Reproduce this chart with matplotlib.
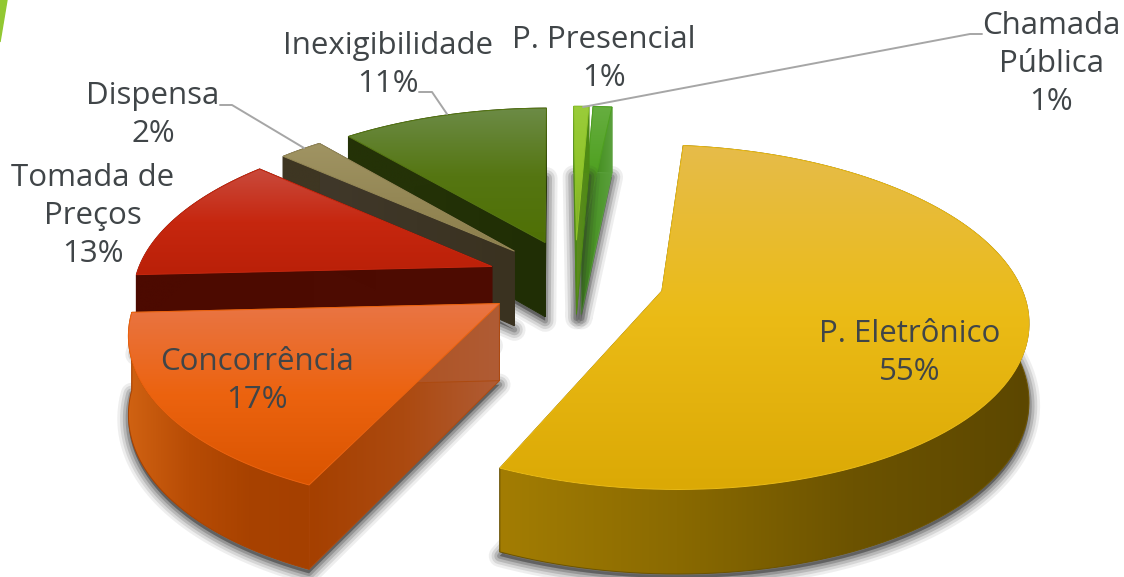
import numpy as np
import matplotlib
matplotlib.use('Agg')
import matplotlib.pyplot as plt
from matplotlib.colors import LinearSegmentedColormap
from matplotlib.patches import Polygon

# slices, clockwise from the top
names = ['P. Eletrônico', 'Concorrência', 'Tomada de\nPreços', 'Dispensa',
         'Inexigibilidade', 'P. Presencial', 'Chamada\nPública']
shares = [55.3, 17.3, 12.4, 2.3, 11.0, 0.8, 1.0]
pct_labels = ['55%', '17%', '13%', '2%', '11%', '1%', '1%']

label_pos = [(910, 353), (257, 381), (93, 216), (153, 115), (388, 65), (604, 59), (1051, 64)]
leaders = {3: [(220, 105), (232, 105), (304, 148)],
           4: [(419, 92), (432, 92), (447, 114)],
           6: [(982, 34), (970, 34), (583, 107)]}

face_cols = [['#E6BC4A', '#EBBB16', '#DBA905'],
             ['#E97545', '#EC630F', '#D95400'],
             ['#C94A3C', '#C6270F', '#BA2008'],
             ['#A09463', '#958856', '#8C7F4C'],
             ['#6C8B46', '#557612', '#4F7005'],
             ['#9ACC3A', '#90C42A', '#7FA82A'],
             ['#66AE40', '#4FA020', '#3F8A18']]
arc_cols = [['#A37D03', '#8A6A01', '#6C5300', '#5C4700'],
            ['#D06212', '#B84C05', '#A84200', '#A54000'],
            ['#4C0A00', '#4C0A00'],
            ['#3E3622', '#3E3622'],
            ['#243207', '#243207'],
            ['#4E8A14', '#4E8A14'],
            ['#3F8A18', '#5AA03C']]
wall_cols = [['#A37D03', '#5C4700'],
             ['#A54000', '#AC4A10', '#B05C35'],
             ['#4C0A00', '#4E0C02'],
             ['#40382A', '#3A3220'],
             ['#263408', '#202E05'],
             ['#5E8A20', '#4E8A14'],
             ['#3F8A18', '#5AA03C']]

# pie geometry in picture pixels
cx, cy = 575, 280
ax_a, ax_b, persp = 357, 165, 0.15
start_deg = 6.0
explode = 0.25


def project(u, v):
    s = 1 - persp * v
    return cx + ax_a * u / s, cy + ax_b * v / s


def depth(v):
    return 76 + 8 * v


def grad_fill(ax, pts, stops, vertical=True, z=2):
    pts = np.asarray(pts)
    cmap = LinearSegmentedColormap.from_list('g', stops)
    ramp = np.linspace(0, 1, 256)
    ramp = ramp[:, None] if vertical else ramp[None, :]
    x0, x1 = pts[:, 0].min(), pts[:, 0].max()
    y0, y1 = pts[:, 1].min(), pts[:, 1].max()
    im = ax.imshow(ramp, cmap=cmap, extent=(x0, x1, y1, y0), aspect='auto', zorder=z,
                   interpolation='bilinear')
    clip = Polygon(pts, closed=True, transform=ax.transData)
    im.set_clip_path(clip)
    ax.add_patch(Polygon(pts, closed=True, fill=False, edgecolor=stops[len(stops) // 2],
                         lw=0.7, zorder=z))


fig = plt.figure(figsize=(11.24, 5.77), dpi=100)
ax = fig.add_axes([0, 0, 1, 1])
ax.axis('off')

# corner accent of the slide
ax.add_patch(Polygon([(0, 0), (7, 0), (0, 42)], closed=True, color='#92C832', zorder=1))

edges = start_deg + 360 * np.cumsum([0] + shares) / sum(shares)
order = [6, 5, 4, 3, 2, 1, 0]
z = 2
for i in order:
    th = np.radians(np.linspace(edges[i], edges[i + 1], 120))
    mid = np.radians((edges[i] + edges[i + 1]) / 2)
    ou, ov = explode * np.sin(mid), -explode * np.cos(mid)
    us = ou + np.sin(th)
    vs = ov - np.cos(th)
    ax_x, ax_y = project(us, vs)
    ap_x, ap_y = project(ou, ov)
    arc = np.column_stack([ax_x, ax_y])
    arc_low = arc + np.column_stack([np.zeros(len(vs)), depth(vs)])
    ap = np.array([ap_x, ap_y])
    ap_low = ap + [0, depth(ov)]

    # soft shadow of the base
    base = np.vstack([ap_low, arc_low]) + [0, 4]
    for lw, al in [(16, .08), (12, .12), (8, .18), (4, .25)]:
        ax.add_patch(Polygon(base, closed=True, facecolor='#303030', edgecolor='#303030',
                             lw=lw, alpha=al, zorder=z, joinstyle='round'))
    z += 1
    # radial walls then outer wall
    for k in (0, -1):
        wall = np.vstack([ap, arc[k], arc_low[k], ap_low])
        grad_fill(ax, wall, wall_cols[i], vertical=False, z=z)
        z += 1
    outer = np.vstack([arc, arc_low[::-1]])
    grad_fill(ax, outer, arc_cols[i], vertical=False, z=z)
    z += 1
    grad_fill(ax, np.vstack([ap, arc]), face_cols[i], vertical=True, z=z)
    z += 1

z += 1
for i, (x, y) in enumerate(label_pos):
    ax.text(x, y, names[i] + '\n' + pct_labels[i], ha='center', va='center', multialignment='center',
            fontsize=22.5, color='#404548', family=['Open Sans', 'DejaVu Sans'],
            linespacing=1.36, zorder=z)
for pts in leaders.values():
    pts = np.array(pts)
    ax.plot(pts[:, 0], pts[:, 1], color='#A6A6A6', lw=1.4, zorder=z, solid_capstyle='round')

ax.set_xlim(0, 1124)
ax.set_ylim(577, 0)
fig.savefig('out.png', dpi=100, facecolor='white')
